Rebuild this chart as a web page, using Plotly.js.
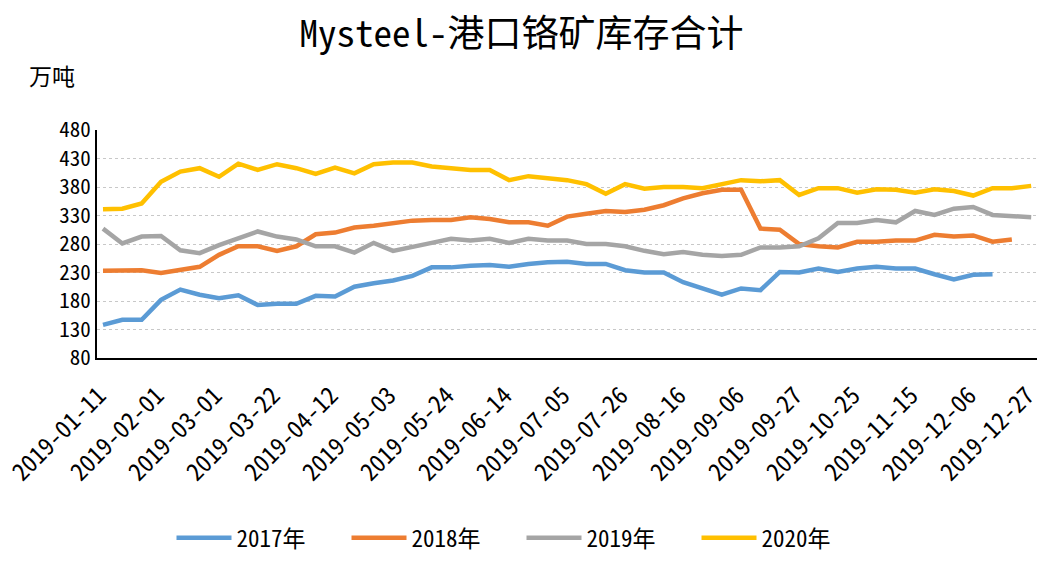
<!DOCTYPE html>
<html>
<head>
<meta charset="utf-8">
<script src="https://cdn.plot.ly/plotly-3.0.1.min.js"></script>
<style>
  body { margin: 0; background: #fff; }
  #chart { width: 1043px; height: 561px; }
</style>
</head>
<body>
<div id="chart"></div>
<script>
// weekly dates (no data on the holiday weeks)
const dates = [
  "2019-01-11", "2019-01-18", "2019-01-25", "2019-02-01", "2019-02-15", "2019-02-22",
  "2019-03-01", "2019-03-08", "2019-03-15", "2019-03-22", "2019-03-29", "2019-04-05",
  "2019-04-12", "2019-04-19", "2019-04-26", "2019-05-03", "2019-05-10", "2019-05-17",
  "2019-05-24", "2019-05-31", "2019-06-07", "2019-06-14", "2019-06-21", "2019-06-28",
  "2019-07-05", "2019-07-12", "2019-07-19", "2019-07-26", "2019-08-02", "2019-08-09",
  "2019-08-16", "2019-08-23", "2019-08-30", "2019-09-06", "2019-09-13", "2019-09-20",
  "2019-09-27", "2019-10-11", "2019-10-18", "2019-10-25", "2019-11-01", "2019-11-08",
  "2019-11-15", "2019-11-22", "2019-11-29", "2019-12-06", "2019-12-13", "2019-12-20",
  "2019-12-27"
];

const s2017 = [138, 147, 147, 182, 200, 191, 185, 190, 173, 175, 175, 189,
  188, 205, 211, 216, 224, 239, 239, 242, 243, 240, 245, 248,
  249, 245, 245, 234, 230, 230, 213, 202, 191, 202, 199, 231,
  230, 237, 231, 237, 240, 237, 237, 227, 218, 226, 227];
const s2018 = [233, 234, 234, 229, 234, 240, 261, 276, 276, 268, 276, 297,
  300, 309, 312, 316, 321, 322, 322, 327, 324, 318, 318, 312,
  328, 333, 338, 336, 340, 348, 360, 369, 375, 375, 307, 305,
  280, 276, 274, 284, 284, 286, 286, 296, 293, 295, 284, 288];
const s2019 = [307, 281, 293, 294, 269, 264, 278, 290, 302, 293, 288, 276,
  276, 265, 282, 268, 276, 282, 289, 286, 289, 282, 289, 286,
  286, 280, 280, 276, 268, 262, 266, 261, 259, 261, 274, 274,
  276, 290, 317, 317, 322, 318, 338, 331, 342, 345, 331, 329, 327];
const s2020 = [341, 342, 351, 389, 407, 413, 398, 421, 410, 420, 413, 403,
  414, 404, 420, 423, 423, 416, 413, 410, 410, 392, 399, 395,
  392, 385, 368, 385, 377, 380, 380, 378, 386, 392, 390, 392,
  366, 378, 378, 370, 376, 375, 370, 376, 373, 365, 378, 378, 382];

const names = ["2017年", "2018年", "2019年", "2020年"];
const colors = ["#5B9BD5", "#ED7D31", "#A5A5A5", "#FFC000"];

const fontFam = '"Noto Sans Mono CJK SC", "DejaVu Sans Mono", "Noto Sans CJK SC", monospace';

// label every third week
const tickDates = dates.filter((d, i) => i % 3 === 0);

const series = [s2017, s2018, s2019, s2020];
const data = series.map((vals, k) => ({
  x: dates.slice(0, vals.length),
  y: vals,
  name: names[k],
  type: "scatter",
  mode: "lines",
  line: {color: colors[k], width: 4.5}
}));

const layout = {
  width: 1043,
  height: 561,
  paper_bgcolor: "#fff",
  plot_bgcolor: "#fff",
  margin: {l: 97, r: 6, t: 130, b: 203},
  font: {family: fontFam, color: "#000", size: 20},
  title: {
    text: "Mysteel-港口铬矿库存合计",
    font: {family: fontFam, size: 37, color: "#000"},
    x: 0.5, xref: "container", xanchor: "center",
    y: 0.94, yref: "container", yanchor: "middle"
  },
  xaxis: {
    type: "category",
    range: [-0.31, 48.3],
    automargin: false,
    tickmode: "array",
    tickvals: tickDates,
    ticktext: tickDates,
    tickangle: -45,
    tickfont: {size: 24},
    ticklabelstandoff: 12,
    ticklabelshift: -4,
    showgrid: false,
    showline: true,
    linecolor: "#000",
    linewidth: 2,
    ticks: "",
    zeroline: false
  },
  yaxis: {
    range: [80, 480],
    dtick: 50,
    tick0: 80,
    automargin: false,
    tickfont: {size: 21},
    showgrid: true,
    gridcolor: "#c8c8c8",
    griddash: "dot",
    gridwidth: 1,
    showline: true,
    linecolor: "#000",
    linewidth: 2,
    ticks: "",
    zeroline: false
  },
  showlegend: true,
  legend: {
    orientation: "h",
    x: 0.5, xanchor: "center",
    xref: "container", yref: "container",
    y: 0.003, yanchor: "bottom",
    font: {size: 23},
    itemwidth: 55,
    entrywidth: 105,
    tracegroupgap: 0
  },
  annotations: [{
    text: "万吨",
    xref: "paper", yref: "paper",
    x: -0.075, y: 1.24,
    xanchor: "left", yanchor: "middle",
    showarrow: false,
    font: {family: fontFam, size: 23, color: "#000"}
  }]
};

Plotly.newPlot("chart", data, layout, {staticPlot: true});
</script>
</body>
</html>
